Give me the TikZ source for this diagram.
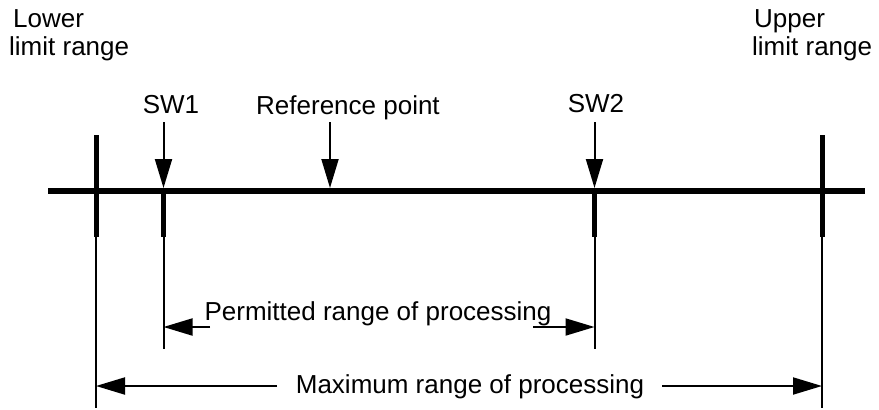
\documentclass[tikz,border=0pt]{standalone}
\usepackage{fontspec}
\setmainfont{Liberation Sans}
\usetikzlibrary{arrows.meta}
\begin{document}
\begin{tikzpicture}[x=1pt,y=-1pt,
  lbl/.style={font=\fontsize{26}{28}\selectfont, inner sep=0pt},
  axisline/.style={line width=6pt},
  tickthick/.style={line width=5pt},
  thinline/.style={line width=2pt},
  dimarrow/.style={line width=2pt,-{Triangle[length=29pt,width=17pt]}},
]
\useasboundingbox (0,0) rectangle (879,410);
% axis
\coordinate (aL) at (48,191);
\coordinate (aR) at (865,191);
\draw[axisline] (aL) -- (aR);
% limit ticks
\coordinate (loT) at (96,135);  \coordinate (loM) at (96,237);  \coordinate (loB) at (96,408);
\coordinate (upT) at (822,135); \coordinate (upM) at (822,237); \coordinate (upB) at (822,408);
\draw[tickthick] (loT) -- (loM);
\draw[thinline] (loM) -- (loB);
\draw[tickthick] (upT) -- (upM);
\draw[thinline] (upM) -- (upB);
% SW ticks
\coordinate (s1A) at (163.5,191); \coordinate (s1M) at (163.5,237); \coordinate (s1B) at (163.5,349);
\coordinate (s2A) at (594.5,191); \coordinate (s2M) at (594.5,237); \coordinate (s2B) at (594.5,349);
\draw[tickthick] (s1A) -- (s1M);
\draw[thinline] (s1M) -- (s1B);
\draw[tickthick] (s2A) -- (s2M);
\draw[thinline] (s2M) -- (s2B);
% labels
\node[lbl, anchor=north west, align=left] (lower) at (9,9.5) {\hspace{4pt}Lower\\limit range};
\node[lbl, anchor=north west, align=left] (upper) at (752,9) {\hspace{2pt}Upper\\limit range};
\node[lbl, anchor=base] (sw1) at (171,113) {SW1};
\node[lbl, anchor=base] (sw2) at (596,112) {SW2};
\node[lbl, anchor=base west] (ref) at (256,114) {Reference point};
% down arrows
\coordinate (s1top) at (163.5,122); \coordinate (s1tip) at (163.5,188);
\coordinate (rtop) at (330,122);    \coordinate (rtip) at (330,188);
\coordinate (s2top) at (594.5,122); \coordinate (s2tip) at (594.5,188);
\draw[dimarrow] (s1top) -- (s1tip);
\draw[dimarrow] (rtop) -- (rtip);
\draw[dimarrow] (s2top) -- (s2tip);
% permitted range
\node[lbl, anchor=base] (perm) at (378,320) {Permitted range of processing};
\coordinate (pL) at (210,327); \coordinate (pLt) at (163.5,327);
\coordinate (pR) at (533,327); \coordinate (pRt) at (594.5,327);
\draw[dimarrow] (pL) -- (pLt);
\draw[dimarrow] (pR) -- (pRt);
% maximum range
\node[lbl, anchor=base] (max) at (470,393) {Maximum range of processing};
\coordinate (mL) at (277,386); \coordinate (mLt) at (96,386);
\coordinate (mR) at (662,386); \coordinate (mRt) at (822,386);
\draw[dimarrow] (mL) -- (mLt);
\draw[dimarrow] (mR) -- (mRt);
\end{tikzpicture}
\end{document}
